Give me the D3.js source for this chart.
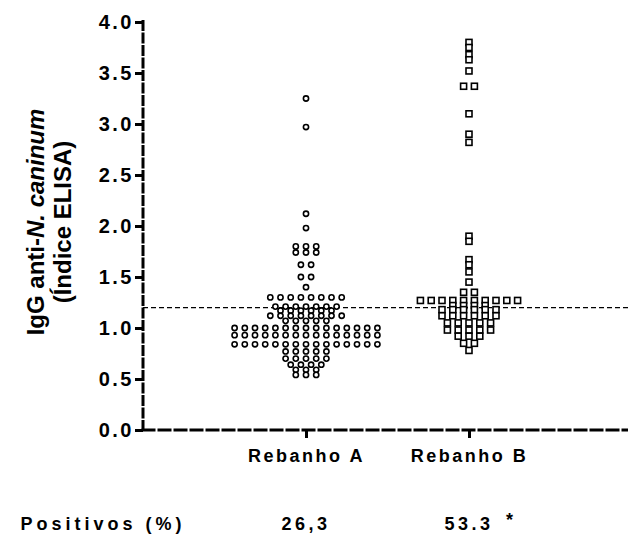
<!DOCTYPE html>
<html><head><meta charset="utf-8">
<script src="https://cdn.jsdelivr.net/npm/d3@7/dist/d3.min.js"></script>
<style>
body{margin:0;background:#fff;}
svg{display:block;font-family:"Liberation Sans",Arial,sans-serif;font-weight:bold;}
</style></head>
<body>
<script>
// ---- data ----
const categories = ["Rebanho A", "Rebanho B"];
const positivos = ["26,3", "53.3"];
const yTicks = [0, 0.5, 1.0, 1.5, 2.0, 2.5, 3.0, 3.5, 4.0];
const cutoff = 1.2;
const rebanhoA = [
  3.25, 2.97, 2.12, 1.98,
  1.80, 1.80, 1.80,
  1.74, 1.74, 1.74,
  1.62, 1.62,
  1.50, 1.50,
  1.40,
  1.30, 1.30, 1.30, 1.30, 1.30, 1.30, 1.30, 1.30,
  1.21, 1.21, 1.21, 1.21, 1.21, 1.21, 1.21,
  1.17, 1.17, 1.17, 1.17, 1.17, 1.17,
  1.12, 1.12, 1.12, 1.12, 1.12, 1.12, 1.12, 1.12,
  1.07, 1.07, 1.07, 1.07, 1.07,
  1.00, 1.00, 1.00, 1.00, 1.00, 1.00, 1.00, 1.00, 1.00, 1.00, 1.00, 1.00, 1.00, 1.00, 1.00,
  0.93, 0.93, 0.93, 0.93, 0.93, 0.93, 0.93, 0.93, 0.93, 0.93, 0.93, 0.93, 0.93, 0.93, 0.93,
  0.84, 0.84, 0.84, 0.84, 0.84, 0.84, 0.84, 0.84, 0.84, 0.84, 0.84, 0.84, 0.84, 0.84, 0.84,
  0.77, 0.77, 0.77, 0.77, 0.77,
  0.70, 0.70, 0.70, 0.70, 0.70,
  0.64, 0.64, 0.64, 0.64,
  0.59, 0.59, 0.59,
  0.54, 0.54, 0.54
];
const rebanhoB = [
  3.80, 3.75, 3.68, 3.63, 3.52, 3.37, 3.37, 3.10, 2.90, 2.82,
  1.90, 1.85, 1.67, 1.62, 1.55, 1.45,
  1.35, 1.35,
  1.27, 1.27, 1.27, 1.27, 1.27, 1.27, 1.27, 1.27, 1.27, 1.27,
  1.22, 1.22, 1.22, 1.22,
  1.18, 1.18, 1.18, 1.18, 1.18, 1.18,
  1.12, 1.12, 1.12, 1.12, 1.12, 1.12,
  1.05, 1.05, 1.05, 1.05, 1.05,
  0.98, 0.98, 0.98, 0.98, 0.98,
  0.92, 0.92, 0.92,
  0.85, 0.85,
  0.78
];

// ---- layout ----
const W = 628, H = 534;
const svg = d3.select("body").append("svg").attr("width", W).attr("height", H);

const y = d3.scaleLinear().domain([0, 4]).range([430, 22]);
const x = d3.scalePoint().domain(["_0", ...categories, "_3"]).range([143, 632]);

// rows of equal values, centred on the category
function rows(vals, spacing) {
  const groups = d3.groups(vals, v => v);
  const out = [];
  groups.forEach(([v, arr]) => {
    const n = arr.length;
    arr.forEach((_, i) => out.push({v, dx: (i - (n - 1) / 2) * spacing}));
  });
  return out;
}

// y axis
const yAxisG = svg.append("g").attr("transform", "translate(143,0)")
  .call(d3.axisLeft(y).tickValues(yTicks).tickFormat(d3.format(".1f")).tickSize(8).tickPadding(1));
yAxisG.select(".domain").remove();
yAxisG.selectAll(".tick line").attr("stroke", "#000").attr("stroke-width", 3);
yAxisG.selectAll(".tick text").attr("font-size", 20).attr("font-weight", "bold")
  .attr("font-family", "Liberation Sans, Arial, sans-serif").attr("fill", "#000")
  .style("letter-spacing", "2.5px");
svg.append("line").attr("x1", 143).attr("x2", 143).attr("y1", y(4) - 2).attr("y2", y(0) + 1.5)
  .attr("stroke", "#000").attr("stroke-width", 3).attr("stroke-dasharray", "11,1.5");

// x axis
const xAxisG = svg.append("g").attr("transform", `translate(0,${y(0)})`)
  .call(d3.axisBottom(x).tickValues(categories).tickSize(8).tickPadding(11));
xAxisG.select(".domain").remove();
xAxisG.selectAll(".tick line").attr("stroke", "#000").attr("stroke-width", 3);
xAxisG.selectAll(".tick text").attr("font-size", 18).attr("font-weight", "bold")
  .attr("font-family", "Liberation Sans, Arial, sans-serif").attr("fill", "#000")
  .style("letter-spacing", "2.5px");
svg.append("line").attr("x1", 141.5).attr("x2", W).attr("y1", y(0)).attr("y2", y(0))
  .attr("stroke", "#000").attr("stroke-width", 3).attr("stroke-dasharray", "14,2");

// cutoff line
svg.append("line").attr("x1", 143).attr("x2", W).attr("y1", y(cutoff)).attr("y2", y(cutoff))
  .attr("stroke", "#000").attr("stroke-width", 1.2).attr("stroke-dasharray", "5,3");

// points
const ptsA = rows(rebanhoA, 10.2);
svg.append("g").selectAll("circle").data(ptsA).join("circle")
  .attr("cx", d => x("Rebanho A") + d.dx).attr("cy", d => y(d.v)).attr("r", 2.6)
  .attr("fill", "#fff").attr("stroke", "#000").attr("stroke-width", 1.6);

const ptsB = rows(rebanhoB, 10.8);
svg.append("g").selectAll("rect").data(ptsB).join("rect")
  .attr("x", d => x("Rebanho B") + d.dx - 3).attr("y", d => y(d.v) - 3).attr("width", 6).attr("height", 6)
  .attr("fill", "#fff").attr("stroke", "#000").attr("stroke-width", 1.6);

// y title
const yt = svg.append("text").attr("transform", "translate(44,222) rotate(-90)")
  .attr("text-anchor", "middle").attr("font-size", 24).attr("font-weight", "bold");
yt.append("tspan").attr("x", 0).attr("dy", 0).text("IgG anti-");
yt.append("tspan").attr("font-style", "italic").text("N. caninum");
yt.append("tspan").attr("x", 0).attr("dy", 27).text("(Índice ELISA)");

// bottom row
svg.append("text").attr("x", 103).attr("y", 530).attr("text-anchor", "middle")
  .attr("font-size", 18).style("letter-spacing", "4px").text("Positivos (%)");
svg.selectAll(".pos").data(categories).join("text").attr("class", "pos")
  .attr("x", d => x(d)).attr("y", 530).attr("text-anchor", "middle")
  .attr("font-size", 18).style("letter-spacing", "3.5px").text((d, i) => positivos[i]);
svg.append("text").attr("x", x("Rebanho B") + 37).attr("y", 526)
  .attr("font-size", 18).text("*");
</script>
</body></html>
